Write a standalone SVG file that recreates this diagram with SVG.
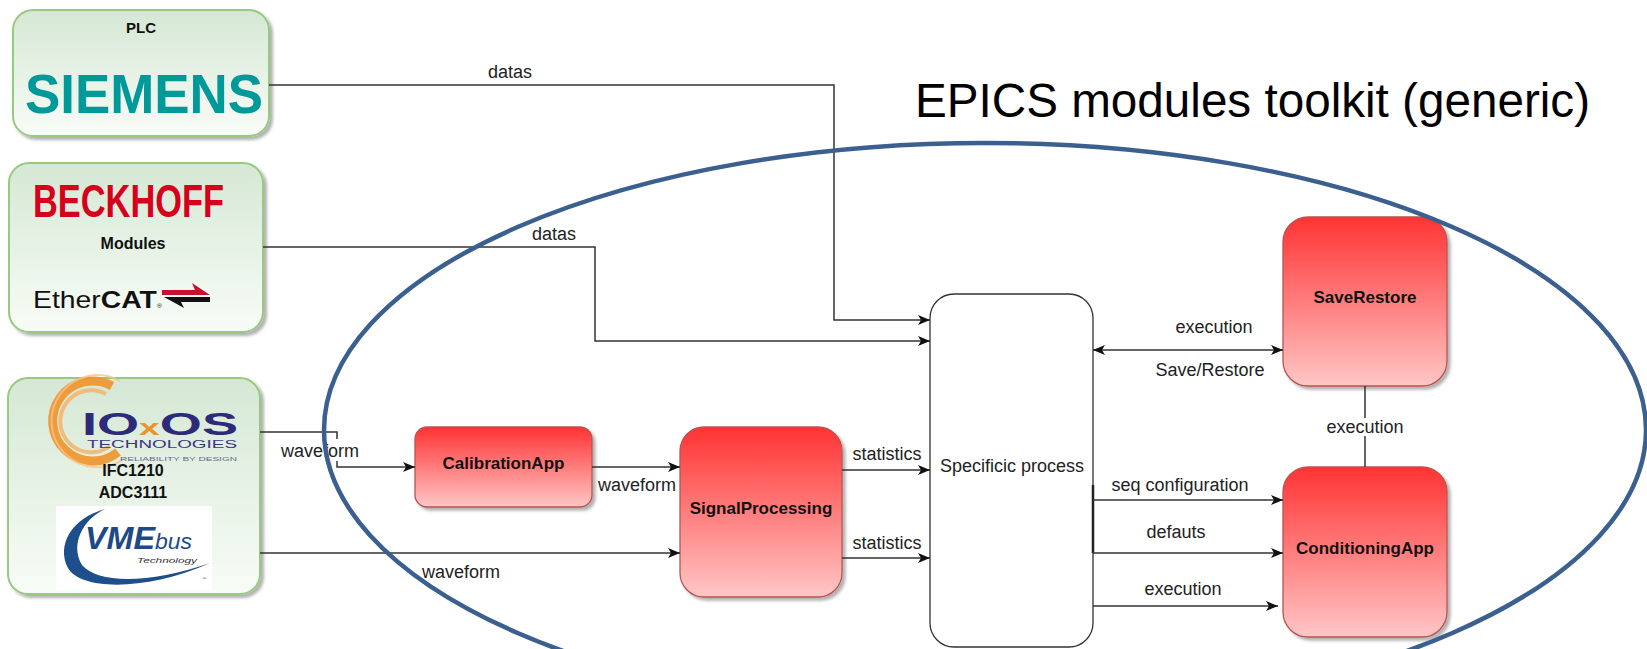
<svg xmlns="http://www.w3.org/2000/svg" width="1647" height="649" viewBox="0 0 1647 649">
<defs>
  <linearGradient id="gGreen" x1="0" y1="0" x2="0" y2="1">
    <stop offset="0" stop-color="#d5e8d4"/>
    <stop offset="1" stop-color="#f8fcf7"/>
  </linearGradient>
  <linearGradient id="gRed" x1="0" y1="0" x2="0" y2="1">
    <stop offset="0" stop-color="#ff3333"/>
    <stop offset="1" stop-color="#ffc6c6"/>
  </linearGradient>
  <filter id="sh" x="-10%" y="-10%" width="130%" height="130%">
    <feDropShadow dx="3" dy="3" stdDeviation="1.5" flood-color="#000" flood-opacity="0.3"/>
  </filter>
  <marker id="arr" markerUnits="userSpaceOnUse" markerWidth="12" markerHeight="10" refX="12" refY="5" orient="auto-start-reverse">
    <path d="M0,0 L12,5 L0,10 L3,5 Z" fill="#111"/>
  </marker>
</defs>
<style>
  .lbl{font-family:"Liberation Sans",Arial,sans-serif;font-size:18px;fill:#222;text-anchor:middle}
  .nodet{font-family:"Liberation Sans",Arial,sans-serif;font-weight:bold;font-size:17px;fill:#111;text-anchor:middle}
  .edge{fill:none;stroke:#333;stroke-width:1.5}
  .red{fill:url(#gRed);stroke:#b85450;stroke-width:1.3;filter:url(#sh)}
  .green{fill:url(#gGreen);stroke:#97c97f;stroke-width:2;filter:url(#sh)}
  .sans{font-family:"Liberation Sans",Arial,sans-serif}
</style>

<text id="title" x="915" y="117" class="sans" font-size="47.5" fill="#000" textLength="675" lengthAdjust="spacingAndGlyphs">EPICS modules toolkit (generic)</text>

<g id="plc">
  <rect x="13" y="10" width="256" height="126" rx="20" class="green"/>
  <text x="141" y="33" class="sans" font-weight="bold" font-size="15" fill="#111" text-anchor="middle">PLC</text>
  <text x="25" y="113" class="sans" font-weight="bold" font-size="56" fill="#009999" textLength="238" lengthAdjust="spacingAndGlyphs">SIEMENS</text>
</g>

<g id="beckhoff">
  <rect x="9" y="163" width="254" height="169" rx="20" class="green"/>
  <text x="33" y="217" class="sans" font-weight="bold" font-size="47" fill="#d6001c" textLength="191" lengthAdjust="spacingAndGlyphs">BECKHOFF</text>
  <text x="133" y="249" class="sans" font-weight="bold" font-size="16" fill="#111" text-anchor="middle">Modules</text>
  <text x="33" y="308" class="sans" fill="#111" textLength="129" lengthAdjust="spacingAndGlyphs"><tspan font-size="24">Ether</tspan><tspan font-weight="bold" font-size="24">CAT</tspan><tspan font-size="6">®</tspan></text>
  <polygon points="162,290 195,290 192,283 210,295 162,295" fill="#c8102e"/>
  <polygon points="210,297 210,302 181,302 184,308 164,297" fill="#111"/>
</g>

<g id="ioxos">
  <rect x="8" y="378" width="252" height="216" rx="20" class="green"/>
  <path d="M112,386 A40,40 0 1 0 118,452" fill="none" stroke="#f0922a" stroke-width="9" opacity="0.9"/>
  <path d="M106,394 A31,31 0 1 0 110,446" fill="none" stroke="#f5b064" stroke-width="4" opacity="0.8"/>
  <path d="M120,381 A46,46 0 1 0 125,458" fill="none" stroke="#f7c38a" stroke-width="2" opacity="0.8"/>
  <text x="82" y="435" class="sans" font-weight="bold" font-size="32" fill="#2e2a7a" textLength="156" lengthAdjust="spacingAndGlyphs">IO<tspan fill="#f0922a" font-size="22">x</tspan>OS</text>
  <text x="87" y="448" class="sans" font-size="10" fill="#3a3587" textLength="150" lengthAdjust="spacingAndGlyphs">TECHNOLOGIES</text>
  <text x="120" y="461" class="sans" font-size="5" fill="#6a6890" textLength="117" lengthAdjust="spacingAndGlyphs">RELIABILITY BY DESIGN</text>
  <text x="133" y="476" class="sans" font-weight="bold" font-size="16" fill="#111" text-anchor="middle">IFC1210</text>
  <text x="133" y="498" class="sans" font-weight="bold" font-size="16" fill="#111" text-anchor="middle">ADC3111</text>
  <rect x="56" y="506" width="156" height="84" fill="#fff"/>
  <path d="M105,509 C72,518 56,545 68,568 C80,590 145,592 210,563 C150,584 98,584 82,565 C70,545 82,520 105,509 Z" fill="#1c4f8c"/>
  <text x="85" y="549" class="sans" font-style="italic" fill="#1d4a86" textLength="107" lengthAdjust="spacingAndGlyphs"><tspan font-weight="bold" font-size="31">VME</tspan><tspan font-size="22">bus</tspan></text>
  <text x="137" y="563" class="sans" font-style="italic" font-size="8" fill="#333" textLength="60" lengthAdjust="spacingAndGlyphs">Technology</text>
  <text x="202" y="580" class="sans" font-size="4" fill="#333">™</text>
</g>

<g id="calibrationapp">
  <rect x="415" y="427" width="177" height="80" rx="12" class="red"/>
  <text x="503.5" y="469" class="nodet">CalibrationApp</text>
</g>

<g id="signalprocessing">
  <rect x="680" y="427" width="162" height="170" rx="24" class="red"/>
  <text x="761" y="514" class="nodet">SignalProcessing</text>
</g>

<g id="specific">
  <rect x="930" y="294" width="163" height="353" rx="24" fill="#fff" stroke="#333" stroke-width="1.3"/>
  <text x="1012" y="472" class="lbl">Specificic process</text>
</g>

<g id="saverestore">
  <rect x="1283" y="217" width="164" height="169" rx="25" class="red"/>
  <text x="1365" y="303" class="nodet">SaveRestore</text>
</g>

<g id="conditioningapp">
  <rect x="1283" y="467" width="164" height="170" rx="25" class="red"/>
  <text x="1365" y="554" class="nodet">ConditioningApp</text>
</g>

<g id="connectors">
  <path class="edge" d="M269,85 H834 V320 H930" marker-end="url(#arr)"/>
  <text x="510" y="78" class="lbl">datas</text>
  <path class="edge" d="M263,247 H595 V341 H930" marker-end="url(#arr)"/>
  <text x="554" y="240" class="lbl">datas</text>
  <path class="edge" d="M260,432 H337 V467 H415" marker-end="url(#arr)"/>
  <rect x="282" y="439" width="76" height="22" fill="#fff"/>
  <text x="320" y="457" class="lbl">waveform</text>
  <path class="edge" d="M260,553 H680" marker-end="url(#arr)"/>
  <text x="461" y="578" class="lbl">waveform</text>
  <path class="edge" d="M592,467 H680" marker-end="url(#arr)"/>
  <text x="637" y="491" class="lbl">waveform</text>
  <path class="edge" d="M842,470 H930" marker-end="url(#arr)"/>
  <text x="887" y="460" class="lbl">statistics</text>
  <path class="edge" d="M842,558 H930" marker-end="url(#arr)"/>
  <text x="887" y="549" class="lbl">statistics</text>
  <path class="edge" d="M1093,350 H1283" marker-start="url(#arr)" marker-end="url(#arr)"/>
  <text x="1214" y="333" class="lbl">execution</text>
  <text x="1210" y="376" class="lbl">Save/Restore</text>
  <line x1="1093" y1="485" x2="1093" y2="553" stroke="#222" stroke-width="2.5"/>
  <path class="edge" d="M1093,500 H1283" marker-end="url(#arr)"/>
  <text x="1180" y="491" class="lbl">seq configuration</text>
  <path class="edge" d="M1093,553 H1283" marker-end="url(#arr)"/>
  <text x="1176" y="538" class="lbl">defauts</text>
  <path class="edge" d="M1093,606 H1278" marker-end="url(#arr)"/>
  <text x="1183" y="595" class="lbl">execution</text>
  <path class="edge" d="M1365,386 V467"/>
  <rect x="1330" y="418" width="70" height="18" fill="#fff"/>
  <text x="1365" y="433" class="lbl" font-size="16">execution</text>
</g>

<ellipse id="toolkit" cx="985" cy="430" rx="661" ry="287" fill="none" stroke="#3b6090" stroke-width="4.5"/>
</svg>
